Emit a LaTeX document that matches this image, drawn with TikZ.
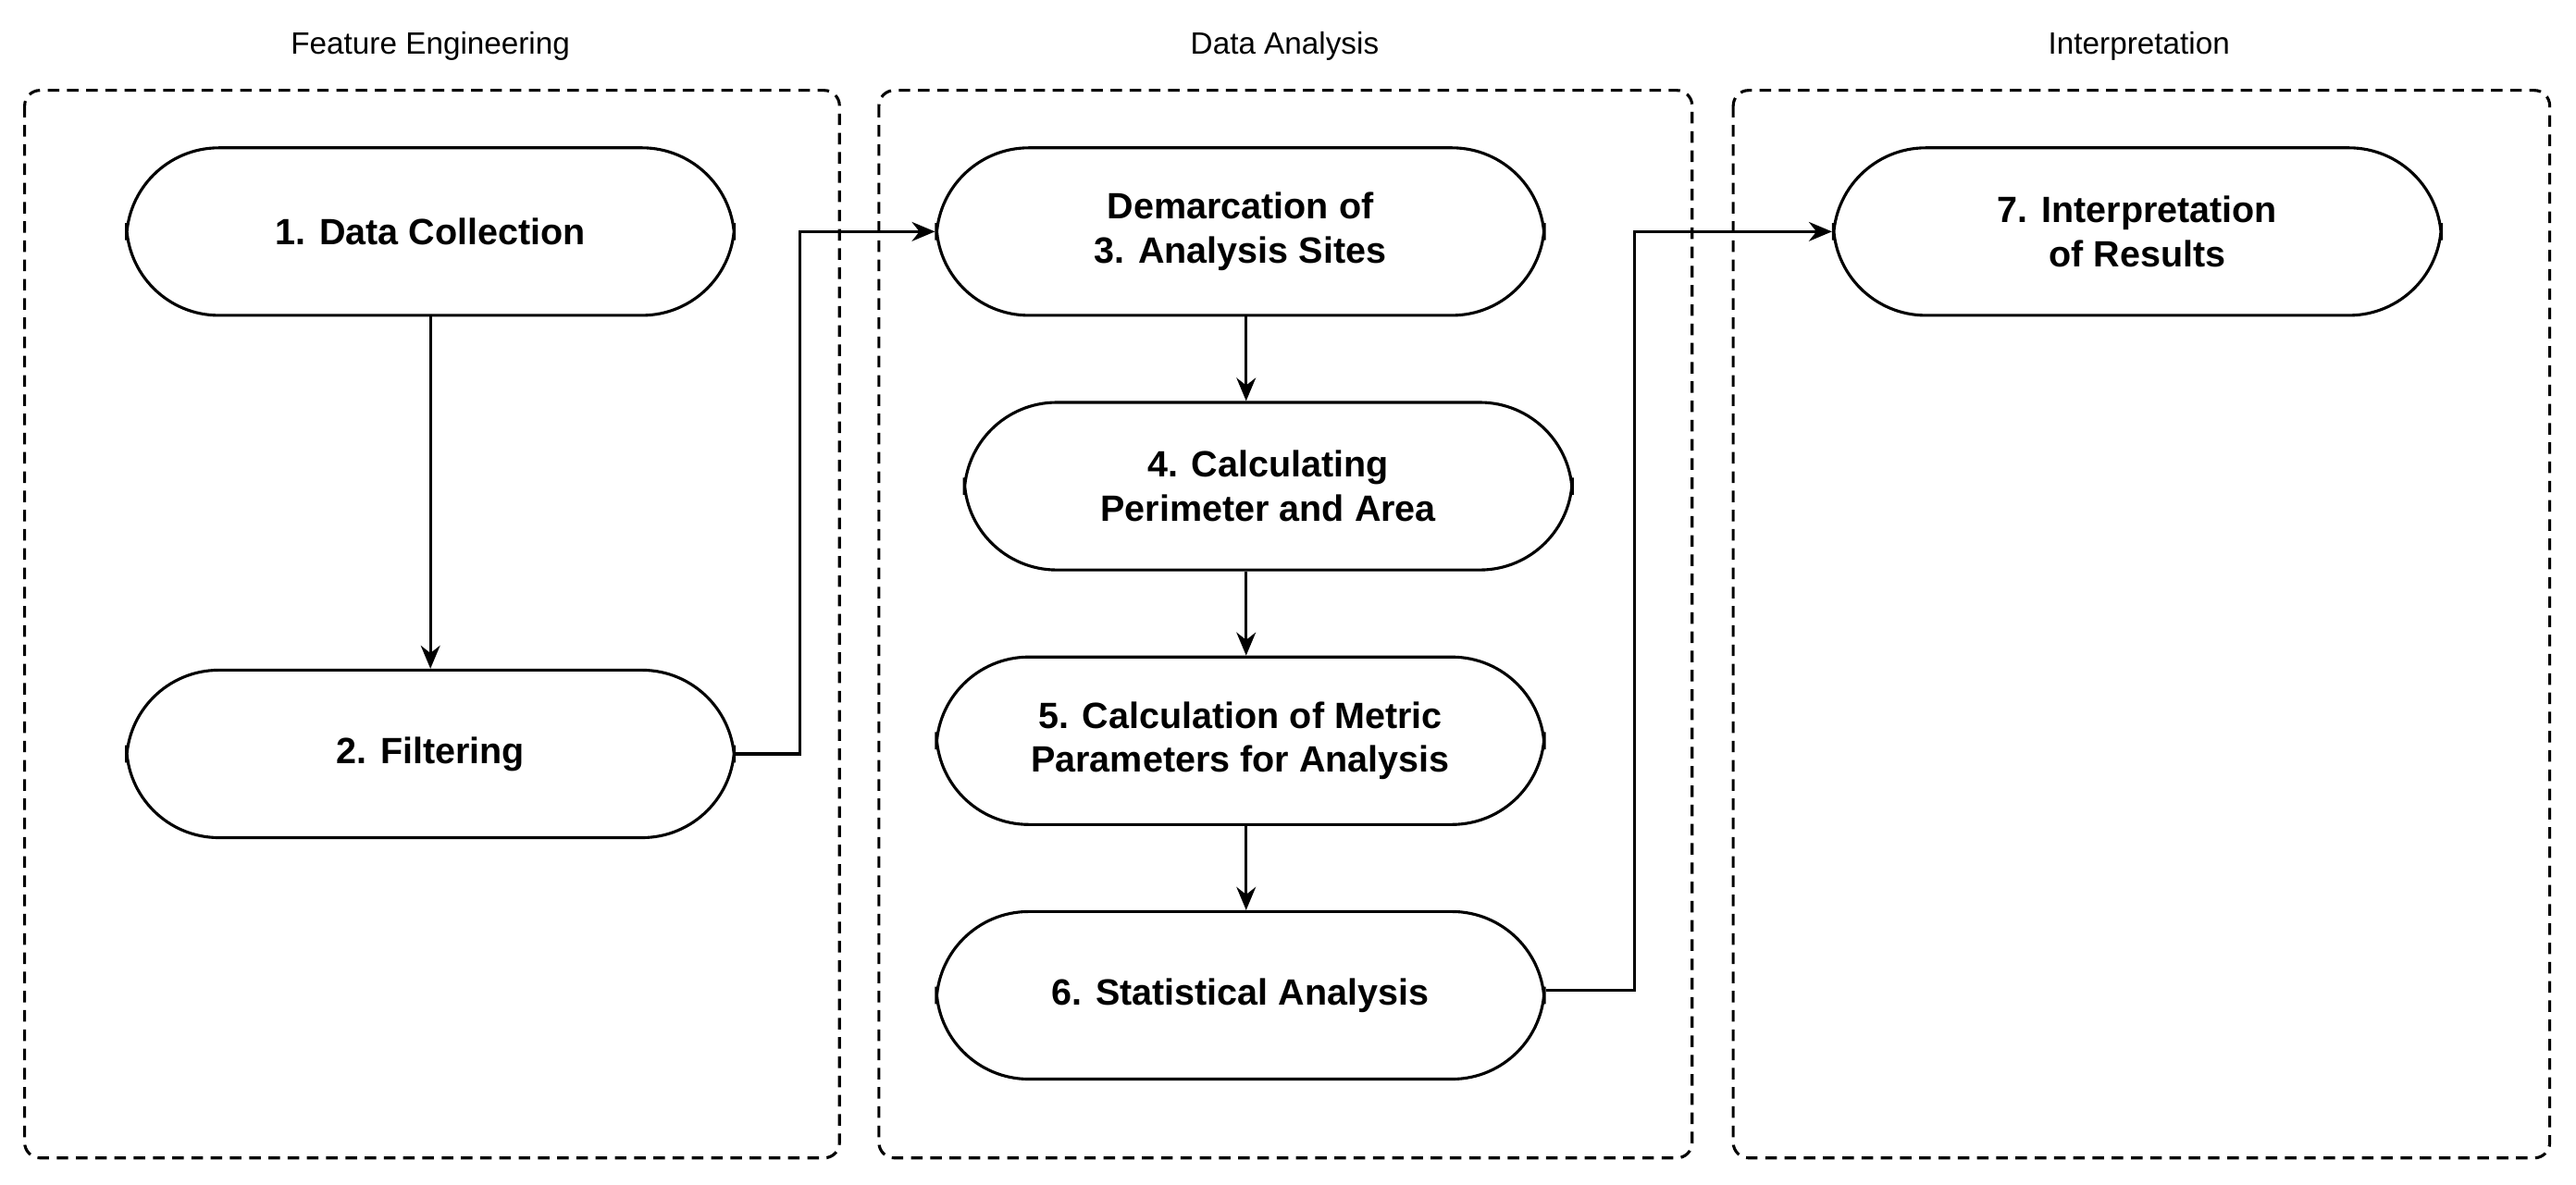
\documentclass[tikz,border=0pt]{standalone}
\usepackage{fontspec}
\setmainfont{Liberation Sans}
\usetikzlibrary{arrows.meta}
\begin{document}
\begin{tikzpicture}[x=0.03cm,y=-0.03cm,
  panel/.style={draw,dashed,line width=1.5pt,rounded corners=8pt,dash pattern=on 6pt off 4pt},
  box/.style={draw,line width=1.5pt,rounded corners=48,minimum width=11.1cm,minimum height=3.06cm,align=center,font=\fontsize{19}{23}\selectfont\bfseries},
  ttl/.style={font=\fontsize{16}{19}\selectfont},
  arr/.style={line width=1.5pt,-{Stealth[length=12pt,width=10pt]}}]
\useasboundingbox (0,0) rectangle (1568,721);
\draw[panel] (15,55) rectangle (511,705);
\draw[panel] (535,55) rectangle (1030,705);
\draw[panel] (1055,55) rectangle (1552,705);
\node[ttl] (t1) at (262,28) {Feature Engineering};
\node[ttl] (t2) at (782,28) {Data Analysis};
\node[ttl] (t3) at (1302,28) {Interpretation};
\node[box] (n1) at (262,141) {1. Data Collection};
\node[box] (n2) at (262,459) {2. Filtering};
\node[box] (n3) at (755,141) {Demarcation of\\3. Analysis Sites};
\node[box] (n4) at (772,296) {4. Calculating\\Perimeter and Area};
\node[box] (n5) at (755,451) {5. Calculation of Metric\\Parameters for Analysis};
\node[box] (n6) at (755,606) {6. Statistical Analysis};
\node[box] (n7) at (1301,141) {7. Interpretation\\of Results};
\draw[arr] (n1) -- (n2);
\draw[arr] ([xshift=3]n3.south) -- ([xshift=3]n3.south |- n4.north);
\draw[arr] ([xshift=3]n3.south |- n4.south) -- ([xshift=3]n5.north);
\draw[arr] ([xshift=3]n5.south) -- ([xshift=3]n6.north);
\coordinate (a) at (487,459);
\draw[arr] (n2.east) -- (a) -- (a |- n3.west) -- (n3.west);
\coordinate (b) at (995,603);
\draw[arr] (n6.east |- b) -- (b) -- (b |- n7.west) -- (n7.west);
\end{tikzpicture}
\end{document}
